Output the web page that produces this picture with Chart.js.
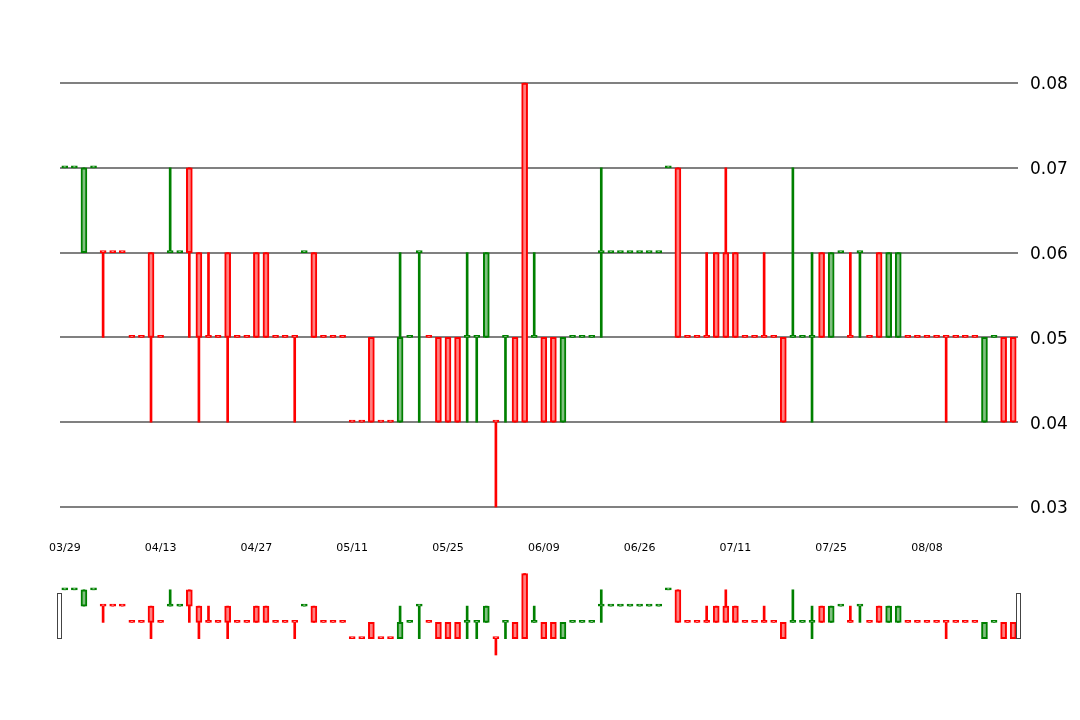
<!DOCTYPE html>
<html><head><meta charset="utf-8">
<script src="https://cdn.jsdelivr.net/npm/chart.js@4.4.0/dist/chart.umd.min.js"></script>
<style>
html,body{margin:0;padding:0;background:#fff;width:1080px;height:720px;overflow:hidden}
#main{position:absolute;left:0;top:0}
#nav{position:absolute;left:0;top:560px}
</style></head><body>
<canvas id="main" width="1080" height="556"></canvas>
<canvas id="nav" width="1080" height="100"></canvas>
<script>
const dates = [
 "03/29","03/30","03/31","04/03","04/04","04/05","04/06","04/10","04/11","04/12",
 "04/13","04/14","04/17","04/18","04/19","04/20","04/21","04/24","04/25","04/26",
 "04/27","04/28","05/01","05/02","05/03","05/04","05/05","05/08","05/09","05/10",
 "05/11","05/12","05/15","05/16","05/17","05/18","05/19","05/22","05/23","05/24",
 "05/25","05/26","05/30","05/31","06/01","06/02","06/05","06/06","06/07","06/08",
 "06/09","06/12","06/13","06/14","06/15","06/16","06/20","06/21","06/22","06/23",
 "06/26","06/27","06/28","06/29","06/30","07/03","07/05","07/06","07/07","07/10",
 "07/11","07/12","07/13","07/14","07/17","07/18","07/19","07/20","07/21","07/24",
 "07/25","07/26","07/27","07/28","07/31","08/01","08/02","08/03","08/04","08/07",
 "08/08","08/09","08/10","08/11","08/14","08/15","08/16","08/17","08/18","08/21"
];
const openP = [
 0.07,0.07,0.06,0.07,0.06,0.06,0.06,0.05,0.05,0.06,
 0.05,0.06,0.06,0.07,0.06,0.05,0.05,0.06,0.05,0.05,
 0.06,0.06,0.05,0.05,0.05,0.06,0.06,0.05,0.05,0.05,
 0.04,0.04,0.05,0.04,0.04,0.04,0.05,0.06,0.05,0.05,
 0.05,0.05,0.05,0.05,0.05,0.04,0.05,0.05,0.08,0.05,
 0.05,0.05,0.04,0.05,0.05,0.05,0.06,0.06,0.06,0.06,
 0.06,0.06,0.06,0.07,0.07,0.05,0.05,0.05,0.06,0.06,
 0.06,0.05,0.05,0.05,0.05,0.05,0.05,0.05,0.05,0.06,
 0.05,0.06,0.05,0.06,0.05,0.06,0.05,0.05,0.05,0.05,
 0.05,0.05,0.05,0.05,0.05,0.05,0.04,0.05,0.05,0.05
];
const highP = [
 0.07,0.07,0.07,0.07,0.06,0.06,0.06,0.05,0.05,0.06,
 0.05,0.07,0.06,0.07,0.06,0.06,0.05,0.06,0.05,0.05,
 0.06,0.06,0.05,0.05,0.05,0.06,0.06,0.05,0.05,0.05,
 0.04,0.04,0.05,0.04,0.04,0.06,0.05,0.06,0.05,0.05,
 0.05,0.05,0.06,0.05,0.06,0.04,0.05,0.05,0.08,0.06,
 0.05,0.05,0.05,0.05,0.05,0.05,0.07,0.06,0.06,0.06,
 0.06,0.06,0.06,0.07,0.07,0.05,0.05,0.06,0.06,0.07,
 0.06,0.05,0.05,0.06,0.05,0.05,0.07,0.05,0.06,0.06,
 0.06,0.06,0.06,0.06,0.05,0.06,0.06,0.06,0.05,0.05,
 0.05,0.05,0.05,0.05,0.05,0.05,0.05,0.05,0.05,0.05
];
const lowP = [
 0.07,0.07,0.06,0.07,0.05,0.06,0.06,0.05,0.05,0.04,
 0.05,0.06,0.06,0.05,0.04,0.05,0.05,0.04,0.05,0.05,
 0.05,0.05,0.05,0.05,0.04,0.06,0.05,0.05,0.05,0.05,
 0.04,0.04,0.04,0.04,0.04,0.04,0.05,0.04,0.05,0.04,
 0.04,0.04,0.04,0.04,0.05,0.03,0.04,0.04,0.04,0.05,
 0.04,0.04,0.04,0.05,0.05,0.05,0.05,0.06,0.06,0.06,
 0.06,0.06,0.06,0.07,0.05,0.05,0.05,0.05,0.05,0.05,
 0.05,0.05,0.05,0.05,0.05,0.04,0.05,0.05,0.04,0.05,
 0.05,0.06,0.05,0.05,0.05,0.05,0.05,0.05,0.05,0.05,
 0.05,0.05,0.04,0.05,0.05,0.05,0.04,0.05,0.04,0.04
];
const closeP = [
 0.07,0.07,0.07,0.07,0.06,0.06,0.06,0.05,0.05,0.05,
 0.05,0.06,0.06,0.06,0.05,0.05,0.05,0.05,0.05,0.05,
 0.05,0.05,0.05,0.05,0.05,0.06,0.05,0.05,0.05,0.05,
 0.04,0.04,0.04,0.04,0.04,0.05,0.05,0.06,0.05,0.04,
 0.04,0.04,0.05,0.05,0.06,0.04,0.05,0.04,0.04,0.05,
 0.04,0.04,0.05,0.05,0.05,0.05,0.06,0.06,0.06,0.06,
 0.06,0.06,0.06,0.07,0.05,0.05,0.05,0.05,0.05,0.05,
 0.05,0.05,0.05,0.05,0.05,0.04,0.05,0.05,0.05,0.05,
 0.06,0.06,0.05,0.06,0.05,0.05,0.06,0.06,0.05,0.05,
 0.05,0.05,0.05,0.05,0.05,0.05,0.05,0.05,0.04,0.04
];
const yMin = 0.03, yMax = 0.08, yStep = 0.01;
const labelEvery = 10;

// rising / falling per candle
const up = [];
for (let i = 0; i < closeP.length; i++) {
  let u;
  if (closeP[i] > openP[i]) u = true;
  else if (closeP[i] < openP[i]) u = false;
  else if (i === 0) u = true;
  else if (closeP[i] > closeP[i - 1]) u = true;
  else if (closeP[i] < closeP[i - 1]) u = false;
  else u = up[i - 1];
  up.push(u);
}
const GREEN = '#008000', RED = '#ff0000', GREEN_F = '#80c080', RED_F = '#ff8080';

function makeDatasets() {
  return [
    {
      type: 'bar',
      data: openP.map((o, i) => [o, closeP[i]]),
      barThickness: 6, borderWidth: 2, borderSkipped: false, minBarLength: 2,
      grouped: false, clip: false,
      backgroundColor: c => up[c.dataIndex] ? GREEN_F : RED_F,
      borderColor: c => up[c.dataIndex] ? GREEN : RED
    },
    {
      type: 'bar',
      data: lowP.map((l, i) => [l, highP[i]]),
      barThickness: 2, borderWidth: 0,
      grouped: false, clip: false,
      backgroundColor: c => up[c.dataIndex] ? GREEN : RED
    }
  ];
}

const FONT = 'DejaVu Sans';

new Chart(document.getElementById('main'), {
  type: 'bar',
  data: { labels: dates, datasets: makeDatasets() },
  options: {
    responsive: false, animation: false,
    layout: { padding: { left: 60, top: 83, right: 0, bottom: 0 } },
    plugins: { legend: { display: false }, tooltip: { enabled: false } },
    scales: {
      x: {
        type: 'category', offset: true,
        grid: { display: false, drawTicks: false }, border: { display: false },
        ticks: {
          autoSkip: false, maxRotation: 0, minRotation: 0, padding: 35, color: '#000',
          font: { family: FONT, size: 11 },
          callback: (v, i) => (i % labelEvery === 0 ? dates[i] : '')
        },
        afterFit: s => { s.height = 49; }
      },
      y: {
        position: 'right', min: yMin, max: yMax,
        grid: { color: '#808080', lineWidth: 2, drawTicks: false }, border: { display: false },
        ticks: {
          stepSize: yStep, padding: 12, color: '#000', labelOffset: 2,
          font: { family: FONT, size: 17 },
          callback: v => Number(v).toFixed(2)
        },
        afterFit: s => { s.width = 62; }
      }
    }
  }
});

const handles = {
  id: 'handles',
  afterDraw(chart) {
    const { ctx, chartArea: a } = chart;
    const h = 45, cy = (a.top + a.bottom) / 2 + 1;
    ctx.save();
    ctx.fillStyle = '#fff';
    ctx.strokeStyle = '#444';
    ctx.lineWidth = 1;
    [a.left - 0.5, a.right].forEach(x => {
      const x0 = Math.round(x - 2.5) + 0.5, y0 = Math.round(cy - h / 2) + 0.5;
      ctx.fillRect(x0, y0, 4, h);
      ctx.strokeRect(x0, y0, 4, h);
    });
    ctx.restore();
  }
};

new Chart(document.getElementById('nav'), {
  type: 'bar',
  data: { labels: dates, datasets: makeDatasets() },
  options: {
    responsive: false, animation: false,
    layout: { padding: { left: 60, right: 62, top: 13.5, bottom: 5 } },
    plugins: { legend: { display: false }, tooltip: { enabled: false } },
    scales: {
      x: { type: 'category', offset: true, display: false },
      y: { min: yMin, max: yMax, display: false }
    }
  },
  plugins: [handles]
});
</script>
</body></html>
